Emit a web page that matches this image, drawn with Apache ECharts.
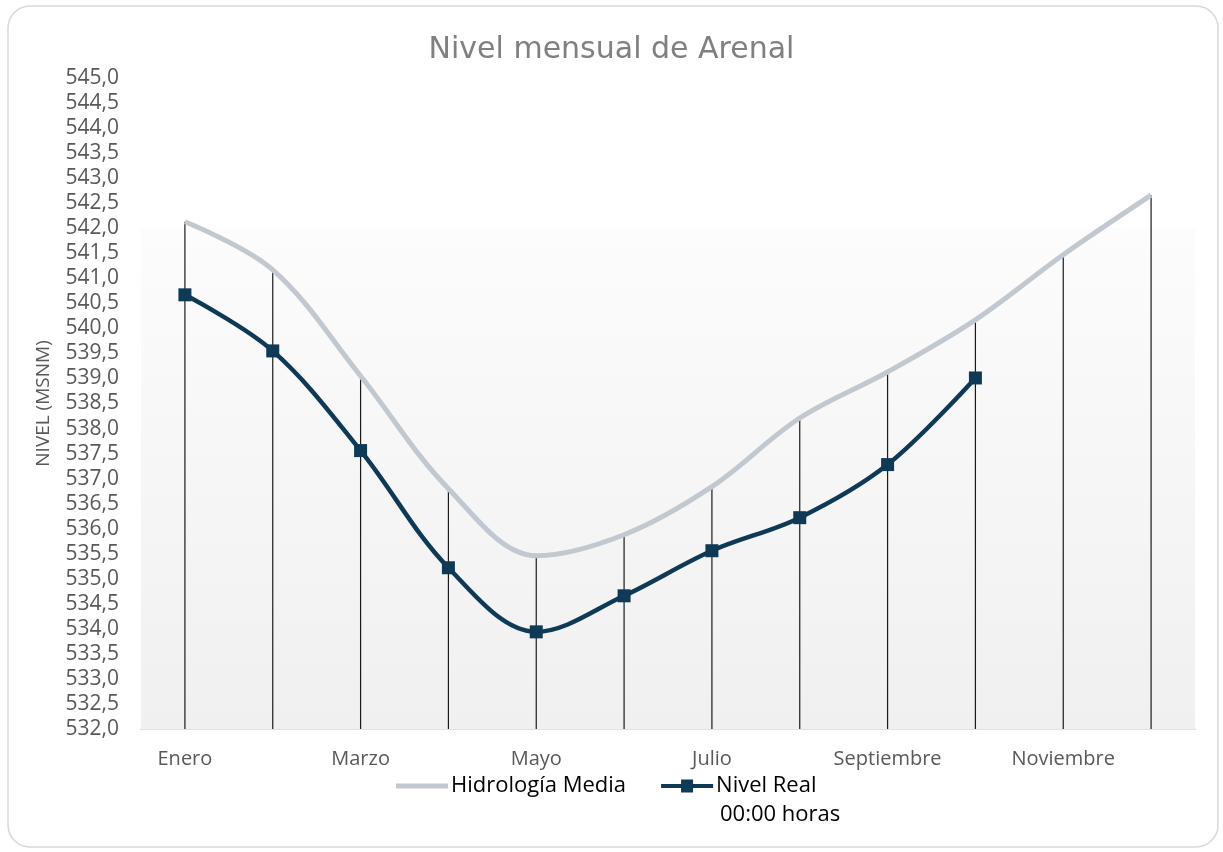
<!DOCTYPE html>
<html>
<head>
<meta charset="utf-8">
<script src="https://cdn.jsdelivr.net/npm/echarts@6/dist/echarts.min.js"></script>
<style>
  html, body { margin: 0; padding: 0; background: #fff; }
  #chart { width: 1223px; height: 852px; }
</style>
</head>
<body>
<div id="chart"></div>
<script>
// data
const months = ['Enero', 'Febrero', 'Marzo', 'Abril', 'Mayo', 'Junio', 'Julio', 'Agosto', 'Septiembre', 'Octubre', 'Noviembre', 'Diciembre'];
const hidrologiaMedia = [542.13, 541.17, 539.05, 536.8, 535.46, 535.88, 536.84, 538.21, 539.13, 540.17, 541.47, 542.66];
const nivelReal = [540.67, 539.55, 537.56, 535.22, 533.94, 534.66, 535.56, 536.22, 537.28, 539.01];

const chart = echarts.init(document.getElementById('chart'));

const fmt = v => v.toFixed(1).replace('.', ',');

// legend icons: plain thick line, and line with a square in the middle
const lineIcon = 'path://M0,4.5 L52,4.5 L52,9.5 L0,9.5 Z';
const markIcon = 'path://M0,5 L20,5 L20,0.5 L32,0.5 L32,5 L52,5 L52,9 L32,9 L32,13.5 L20,13.5 L20,9 L0,9 Z';

const option = {
  backgroundColor: '#fff',
  animation: false,
  title: {
    text: 'Nivel mensual de Arenal',
    left: 'center',
    top: 30,
    textStyle: { fontFamily: 'DejaVu Sans', fontSize: 30, fontWeight: 'normal', color: '#808080' }
  },
  graphic: [
    {
      type: 'rect',
      shape: { x: 8, y: 6, width: 1210, height: 841, r: 22 },
      style: { fill: 'none', stroke: '#d9d9d9', lineWidth: 1.5 },
      z: -10
    },
    {
      type: 'text',
      left: 720,
      top: 804,
      style: { text: '00:00 horas', fontFamily: 'Open Sans', fontSize: 22, fill: '#000' }
    }
  ],
  legend: {
    data: [
      { name: 'Hidrología Media', icon: lineIcon },
      { name: 'Nivel Real', icon: markIcon }
    ],
    left: 391,
    top: 770,
    itemWidth: 52,
    itemHeight: 14,
    itemGap: 35,
    textStyle: { fontFamily: 'Open Sans', fontSize: 22, color: '#000', padding: [0, 0, 0, -2] }
  },
  grid: { left: 141, right: 28, top: 78, bottom: 123 },
  xAxis: {
    type: 'category',
    data: months,
    boundaryGap: true,
    axisLine: { lineStyle: { color: '#d9d9d9', width: 1.5 } },
    axisTick: { show: false },
    axisLabel: {
      interval: 1,
      margin: 20,
      fontFamily: 'Open Sans',
      fontSize: 20,
      color: '#595959'
    }
  },
  yAxis: {
    type: 'value',
    min: 532,
    max: 545,
    interval: 0.5,
    name: 'NIVEL (MSNM)',
    nameLocation: 'middle',
    nameGap: 88,
    nameTextStyle: { fontFamily: 'Open Sans', fontSize: 19, color: '#595959' },
    axisLine: { show: false },
    axisTick: { show: false },
    splitLine: { show: false },
    axisLabel: {
      formatter: fmt,
      margin: 22,
      fontFamily: 'Open Sans',
      fontSize: 21,
      color: '#595959'
    }
  },
  series: [
    {
      name: 'drop',
      type: 'bar',
      data: hidrologiaMedia,
      barWidth: 1.2,
      itemStyle: { color: '#1a1a1a' },
      z: 1,
      markArea: {
        silent: true,
        itemStyle: {
          color: new echarts.graphic.LinearGradient(0, 0, 0, 1, [
            { offset: 0, color: '#fcfcfc' },
            { offset: 1, color: '#f0f0f0' }
          ])
        },
        data: [[{ yAxis: 542 }, { yAxis: 532 }]]
      }
    },
    {
      name: 'Hidrología Media',
      type: 'line',
      data: hidrologiaMedia,
      smooth: 0.35,
      symbol: 'none',
      lineStyle: { color: '#c2c8cf', width: 5 },
      itemStyle: { color: '#c2c8cf' },
      z: 3
    },
    {
      name: 'Nivel Real',
      type: 'line',
      data: nivelReal,
      smooth: 0.35,
      symbol: 'rect',
      symbolSize: 13,
      lineStyle: { color: '#0e3a57', width: 4.5 },
      itemStyle: { color: '#0e3a57' },
      z: 4
    }
  ]
};

chart.setOption(option);
</script>
</body>
</html>
